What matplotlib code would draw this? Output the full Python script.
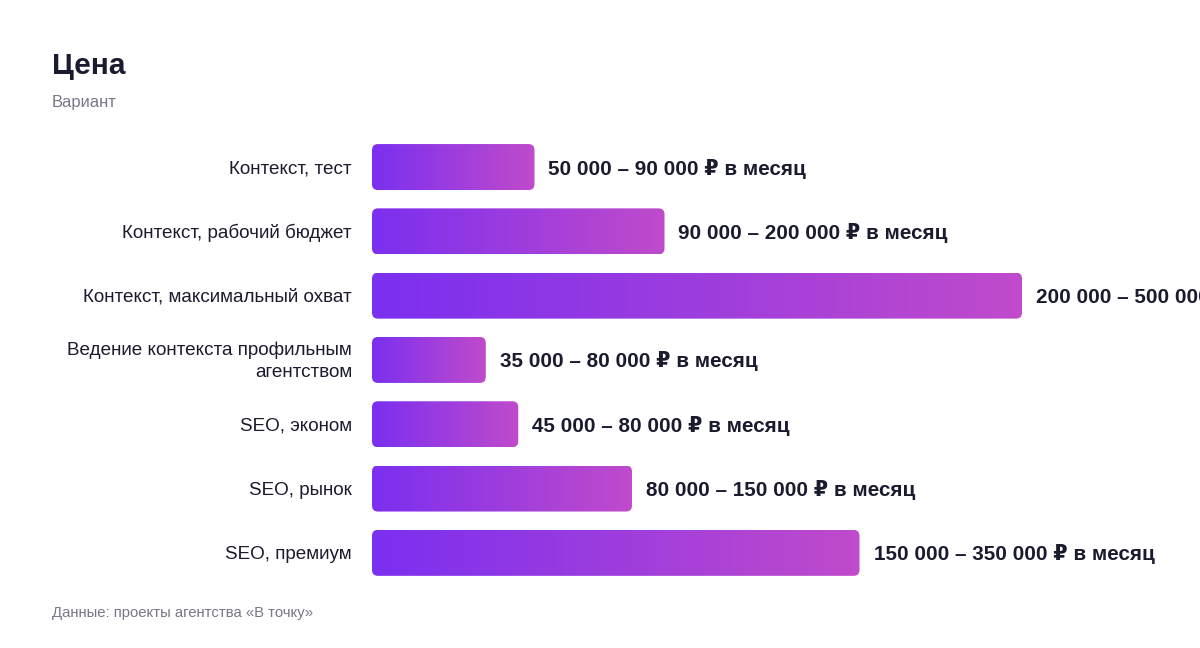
import numpy as np
import matplotlib
matplotlib.use("Agg")
import matplotlib.pyplot as plt
from matplotlib.patches import FancyBboxPatch
from matplotlib.colors import LinearSegmentedColormap

plt.rcParams['font.family'] = ['Liberation Sans', 'DejaVu Sans']

categories = [
    "Контекст, тест",
    "Контекст, рабочий бюджет",
    "Контекст, максимальный охват",
    "Ведение контекста профильным\nагентством",
    "SEO, эконом",
    "SEO, рынок",
    "SEO, премиум",
]
price_min = [50, 90, 200, 35, 45, 80, 150]    # thousand rubles
price_max = [90, 200, 500, 80, 80, 150, 350]  # thousand rubles

def fmt(v):
    return f"{v:,}".replace(",", " ") + " 000"

value_labels = [f"{fmt(a)} – {fmt(b)} ₽ в месяц" for a, b in zip(price_min, price_max)]

DARK = "#1b1b2f"
GRAY = "#777788"
grad = LinearSegmentedColormap.from_list("g", ["#7b2ff0", "#c04bcb"])

W, H = 1200, 648
fig = plt.figure(figsize=(12, 6.48), dpi=100)
fig.patch.set_facecolor("white")

px_per_k = 3.25
ax_left, ax_top, row_h = 372, 134.9, 64.3
ax = fig.add_axes([ax_left / W, 1 - (ax_top + 7 * row_h) / H,
                   (W - ax_left) / W, 7 * row_h / H])
ax.set_xlim(0, (W - ax_left) / px_per_k)
ax.set_ylim(len(categories) - 0.5, -0.5)
ax.axis("off")

bar_h = 0.715
radius_px = 6
aspect = (1 / row_h) / (1 / px_per_k)
rounding = radius_px / px_per_k
nudge = 1.5 / row_h  # small downward shift of text, in rows

ramp = np.linspace(0, 1, 256).reshape(1, -1)
for i, (v, lab) in enumerate(zip(price_min, value_labels)):
    y0 = i - bar_h / 2
    patch = FancyBboxPatch((0, y0), v, bar_h,
                           boxstyle=f"round,pad=0,rounding_size={rounding}",
                           mutation_aspect=aspect, facecolor="none",
                           edgecolor="none")
    ax.add_patch(patch)
    im = ax.imshow(ramp, cmap=grad, aspect="auto",
                   extent=(0, v, i + bar_h / 2, y0), zorder=2)
    im.set_clip_path(patch)
    ax.text(v + 14 / px_per_k, i + nudge, lab, va="center", ha="left",
            fontsize=14.9, fontweight="bold", color=DARK, clip_on=False)
    ax.text(-20 / px_per_k, i + nudge, categories[i], va="center", ha="right",
            multialignment="right", fontsize=13.6, color=DARK,
            linespacing=1.38, clip_on=False)

ax.set_xlim(0, (W - ax_left) / px_per_k)
ax.set_ylim(len(categories) - 0.5, -0.5)

fig.text(52 / W, 1 - 66.5 / H, "Цена", fontsize=21.5, fontweight="bold",
         color=DARK, va="center", ha="left")
fig.text(52 / W, 1 - 103 / H, "Вариант", fontsize=11.9, color=GRAY,
         va="center", ha="left")
fig.text(52 / W, 1 - 613 / H, "Данные: проекты агентства «В точку»",
         fontsize=10.7, color=GRAY, va="center", ha="left")

fig.savefig("out.png", dpi=100)
